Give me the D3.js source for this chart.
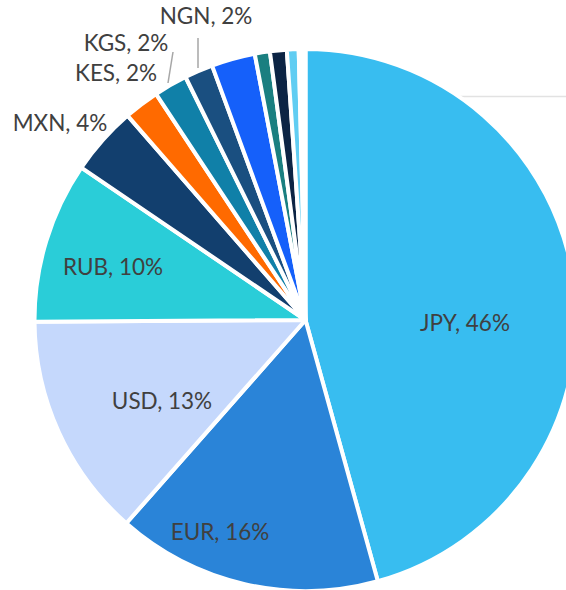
<!DOCTYPE html>
<html>
<head>
<meta charset="utf-8">
<script src="https://cdn.jsdelivr.net/npm/d3@7"></script>
<style>
  body { margin: 0; background: #fff; }
  text { font-family: Lato, "Liberation Sans", sans-serif; }
</style>
</head>
<body>
<div id="chart"></div>
<script>
// data (share of total, %)
var currencies = ["JPY", "EUR", "USD", "RUB", "MXN", "KES", "KGS", "NGN", "C9", "C10", "C11", "C12", "C13"];
var shares     = [45.7, 15.8, 13.4, 9.6, 4.1, 2.1, 2.0, 1.7, 2.6, 0.9, 1.0, 0.7, 0.4];
var colors     = ["#38BDF0", "#2A84D8", "#C5D8FC", "#2ACDD8", "#123F6E", "#FF6A00",
                  "#1080A8", "#1A4F80", "#1560FA", "#1A7F80", "#0C2444", "#60CDF2", "#FFFFFF"];
var labelled   = ["JPY", "EUR", "USD", "RUB", "MXN", "KES", "KGS", "NGN"];

// layout
var width = 566, height = 590;
var cx = 305.5, cy = 320, radius = 271;

// label anchors (text centres) and leader lines
var labelPos = {
  JPY: [465, 322], EUR: [220, 531], USD: [162, 400], RUB: [113, 266],
  MXN: [60, 122], KES: [116, 72], KGS: [126, 42], NGN: [206, 15]
};
var leaders = {
  KGS: [[173, 52], [168, 83]],
  NGN: [[198, 38], [198, 68]]
};

var svg = d3.select("#chart")
  .append("svg")
    .attr("width", width)
    .attr("height", height);

// faint line behind the pie
svg.append("line")
  .attr("x1", 300).attr("x2", width)
  .attr("y1", 96.5).attr("y2", 96.5)
  .attr("stroke", "#e2e2e2")
  .attr("stroke-width", 1.5);

var pie = d3.pie().sort(null).value(function(d) { return d; });
var arcs = pie(shares);

var arc = d3.arc().innerRadius(0).outerRadius(radius);

var g = svg.append("g")
  .attr("transform", "translate(" + cx + "," + cy + ")");

g.selectAll("path")
  .data(arcs)
  .enter()
  .append("path")
    .attr("d", arc)
    .attr("fill", function(d, i) { return colors[i]; })
    .attr("stroke", "#fff")
    .attr("stroke-width", 4)
    .attr("stroke-linejoin", "round");

// leader lines
Object.keys(leaders).forEach(function(k) {
  var p = leaders[k];
  svg.append("line")
    .attr("x1", p[0][0]).attr("y1", p[0][1])
    .attr("x2", p[1][0]).attr("y2", p[1][1])
    .attr("stroke", "#a6a6a6")
    .attr("stroke-width", 1.5);
});

// labels
var total = d3.sum(shares);
svg.append("g")
  .selectAll("text")
  .data(labelled)
  .enter()
  .append("text")
    .attr("x", function(d) { return labelPos[d][0]; })
    .attr("y", function(d) { return labelPos[d][1]; })
    .attr("text-anchor", "middle")
    .attr("dominant-baseline", "central")
    .attr("font-size", 22.5)
    .attr("fill", "#404040")
    .text(function(d) {
      var v = shares[currencies.indexOf(d)];
      return d + ", " + Math.round(v / total * 100) + "%";
    });
</script>
</body>
</html>
